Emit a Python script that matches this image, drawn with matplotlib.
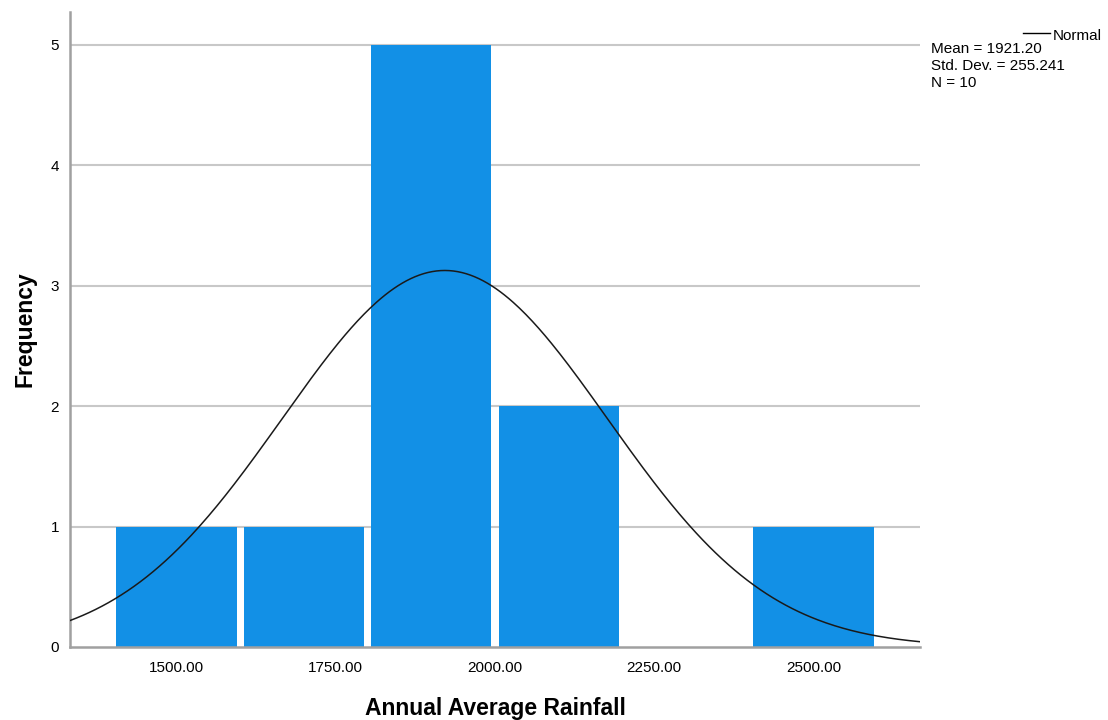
import numpy as np
import matplotlib
matplotlib.use('Agg')
import matplotlib.pyplot as plt

plt.rcParams['font.family'] = ['Liberation Sans', 'DejaVu Sans']

# histogram bins (annual average rainfall) and counts
bin_left = [1400, 1600, 1800, 2000, 2200, 2400]
bin_width = 200
counts = [1, 1, 5, 2, 0, 1]
mean, sd, n = 1921.20, 255.241, 10
xticks = [1500, 1750, 2000, 2250, 2500]
yticks = [0, 1, 2, 3, 4, 5]

fig = plt.figure(figsize=(11.08, 7.2), dpi=100)
ax = fig.add_axes([0.0632, 0.1014, 0.7671, 0.8816])

ax.set_xlim(1333, 2667)
ax.set_ylim(0, 5.27)

for y in yticks[1:]:
    ax.axhline(y, color='#c8c8c8', lw=1.5, zorder=0)

# bars leave a thin white gap between neighbouring bins
gap = 11
ax.bar([b + gap / 2 for b in bin_left], counts, width=bin_width - gap,
       align='edge', color='#1290e6', linewidth=0, zorder=2)

# fitted normal curve scaled to counts
xs = np.linspace(1333, 2667, 400)
pdf = np.exp(-0.5 * ((xs - mean) / sd) ** 2) / (sd * np.sqrt(2 * np.pi))
ax.plot(xs, pdf * n * bin_width, color='#1a1a1a', lw=1.1, zorder=3)

ax.set_xticks(xticks)
ax.set_xticklabels([f'{v:.2f}' for v in xticks], fontsize=11)
ax.set_yticks(yticks)
ax.set_yticklabels([str(v) for v in yticks], fontsize=11)
ax.tick_params(axis='x', length=0, pad=10)
ax.tick_params(axis='y', length=0, pad=8)

for side in ['top', 'right']:
    ax.spines[side].set_visible(False)
for side in ['left', 'bottom']:
    ax.spines[side].set_color('#a0a0a0')
    ax.spines[side].set_linewidth(1.8)

ax.set_xlabel('Annual Average Rainfall', fontsize=16.5, fontweight='bold', labelpad=16)
ax.set_ylabel('Frequency', fontsize=16.5, fontweight='bold', labelpad=10)

# legend block
fig.add_artist(plt.Line2D([1023 / 1108, 1050 / 1108], [1 - 33 / 720, 1 - 33 / 720],
                          color='black', lw=1))
fig.text(1053 / 1108, 1 - 36 / 720, 'Normal', fontsize=11, va='center')
fig.text(931 / 1108, 1 - 49 / 720, 'Mean = 1921.20', fontsize=11, va='center')
fig.text(931 / 1108, 1 - 66 / 720, 'Std. Dev. = 255.241', fontsize=11, va='center')
fig.text(931 / 1108, 1 - 83 / 720, 'N = 10', fontsize=11, va='center')

fig.savefig('out.png', dpi=100)
